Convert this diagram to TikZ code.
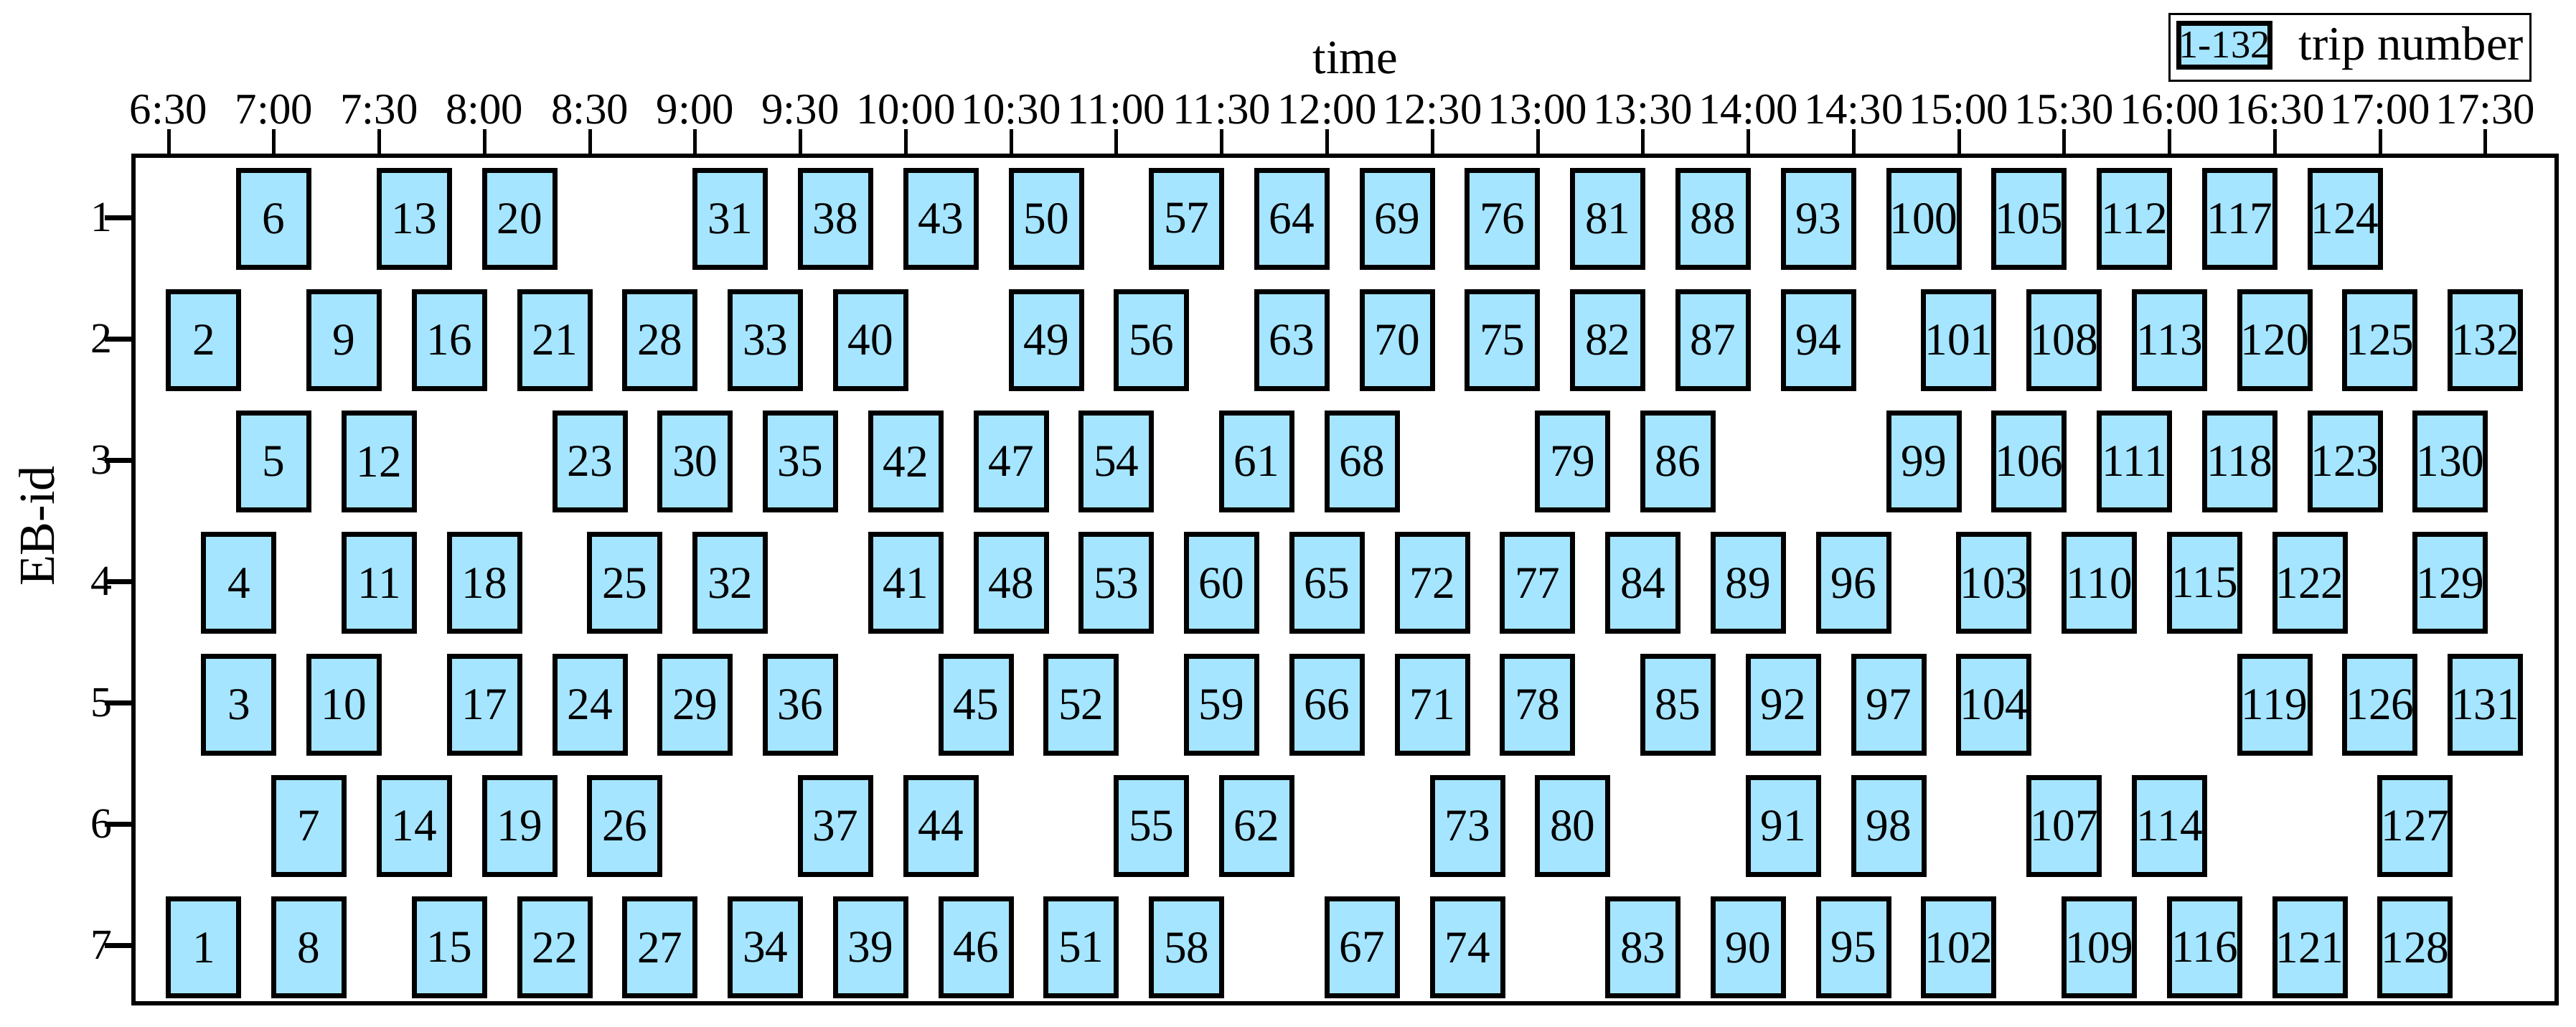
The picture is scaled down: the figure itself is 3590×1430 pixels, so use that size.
\documentclass[tikz,border=0pt]{standalone}
\usepackage{fontspec}
\setmainfont{Liberation Serif}
\definecolor{tripblue}{RGB}{165,229,255}
\begin{document}
\begin{tikzpicture}[x=0.1mm,y=-0.1mm,
  trip/.style={draw=black, fill=tripblue, line width=0.7mm, minimum width=9.8mm,
    minimum height=13.5mm, inner sep=0pt, font=\fontsize{18pt}{18pt}\selectfont},
  ticklab/.style={anchor=base, inner sep=0pt, font=\fontsize{17.3pt}{17.3pt}\selectfont},
  rowlab/.style={inner sep=0pt, font=\fontsize{17pt}{17pt}\selectfont},
  axtitle/.style={inner sep=0pt, font=\fontsize{19pt}{19pt}\selectfont},
  frameline/.style={line width=0.65mm},
  xtick/.style={line width=0.5mm},
  ytick/.style={line width=0.7mm}]
\useasboundingbox (0,0) rectangle (3590,1430);
% frame
\draw[frameline] (186,217) rectangle (3563,1398);
% x ticks and labels
\foreach \i/\lab in {0/6:30,1/7:00,2/7:30,3/8:00,4/8:30,5/9:00,6/9:30,7/10:00,8/10:30,9/11:00,10/11:30,11/12:00,12/12:30,13/13:00,14/13:30,15/14:00,16/14:30,17/15:00,18/15:30,19/16:00,20/16:30,21/17:00,22/17:30}{
  \coordinate (xt\i) at ({235+\i*146.77},217);
  \draw[xtick] (xt\i) -- ++(0,-37);
  \node[ticklab] (xl\i) at ({235+\i*146.77},172) {\lab};
}
% y ticks and labels
\foreach \r in {1,...,7}{
  \coordinate (yt\r) at (186,{303+(\r-1)*169});
  \draw[ytick] (yt\r) -- ++(-40,0);
  \node[rowlab] (yl\r) at (141,{303+(\r-1)*169}) {\r};
}
\node[axtitle, anchor=base] (xtitle) at (1889,102) {time};
\node[axtitle, rotate=90, font=\fontsize{20pt}{20pt}\selectfont] (ytitle) at (51,733) {EB-id};
% trips, row 1
\foreach \n/\k in {6/2,13/6,20/9,31/15,38/18,43/21,50/24,57/28,64/31,69/34,76/37,81/40,88/43,93/46,100/49,105/52,112/55,117/58,124/61}
  \node[trip] (t\n) at ({235+(\k+1)*48.92},{304.5+0*169.3}) {\n};
% row 2
\foreach \n/\k in {2/0,9/4,16/7,21/10,28/13,33/16,40/19,49/24,56/27,63/31,70/34,75/37,82/40,87/43,94/46,101/50,108/53,113/56,120/59,125/62,132/65}
  \node[trip] (t\n) at ({235+(\k+1)*48.92},{304.5+1*169.3}) {\n};
% row 3
\foreach \n/\k in {5/2,12/5,23/11,30/14,35/17,42/20,47/23,54/26,61/30,68/33,79/39,86/42,99/49,106/52,111/55,118/58,123/61,130/64}
  \node[trip] (t\n) at ({235+(\k+1)*48.92},{304.5+2*169.3}) {\n};
% row 4
\foreach \n/\k in {4/1,11/5,18/8,25/12,32/15,41/20,48/23,53/26,60/29,65/32,72/35,77/38,84/41,89/44,96/47,103/51,110/54,115/57,122/60,129/64}
  \node[trip] (t\n) at ({235+(\k+1)*48.92},{304.5+3*169.3}) {\n};
% row 5
\foreach \n/\k in {3/1,10/4,17/8,24/11,29/14,36/17,45/22,52/25,59/29,66/32,71/35,78/38,85/42,92/45,97/48,104/51,119/59,126/62,131/65}
  \node[trip] (t\n) at ({235+(\k+1)*48.92},{304.5+4*169.3}) {\n};
% row 6
\foreach \n/\k in {7/3,14/6,19/9,26/12,37/18,44/21,55/27,62/30,73/36,80/39,91/45,98/48,107/53,114/56,127/63}
  \node[trip] (t\n) at ({235+(\k+1)*48.92},{304.5+5*169.3}) {\n};
% row 7
\foreach \n/\k in {1/0,8/3,15/7,22/10,27/13,34/16,39/19,46/22,51/25,58/28,67/33,74/36,83/41,90/44,95/47,102/50,109/54,116/57,121/60,128/63}
  \node[trip] (t\n) at ({235+(\k+1)*48.92},{304.5+6*169.3}) {\n};
% legend
\node[draw=black, line width=0.3mm, minimum width=50.3mm, minimum height=9.3mm, inner sep=0pt] (legend) at (3275,66.3) {};
\node[trip, minimum width=12.7mm, minimum height=6.06mm, font=\fontsize{15.5pt}{15.5pt}\selectfont] (legswatch) at (3100,63) {1-132};
\node[axtitle, anchor=base west] (legtext) at (3203,83.3) {trip number};
\end{tikzpicture}
\end{document}
